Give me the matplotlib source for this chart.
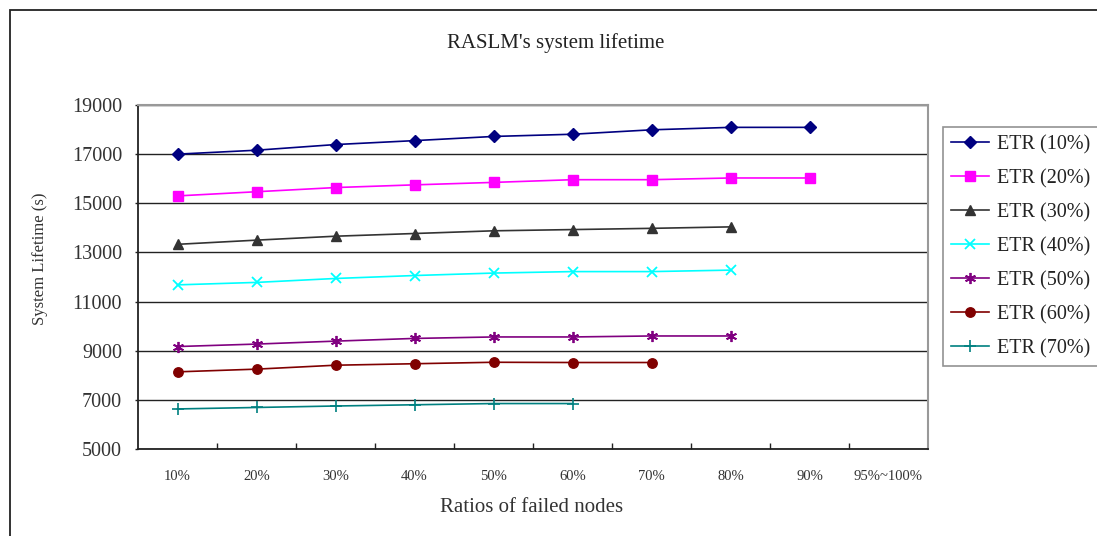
import matplotlib
matplotlib.use("Agg")
import matplotlib.pyplot as plt
from matplotlib.patches import Rectangle
import numpy as np

plt.rcParams['font.family'] = ['Liberation Serif', 'DejaVu Serif']

categories = ["10%", "20%", "30%", "40%", "50%", "60%", "70%", "80%", "90%", "95%~100%"]

etr10 = [17000, 17160, 17390, 17550, 17720, 17810, 17990, 18090, 18090]
etr20 = [15300, 15470, 15640, 15750, 15850, 15960, 15960, 16030, 16030]
etr30 = [13330, 13500, 13660, 13770, 13880, 13930, 13980, 14040]
etr40 = [11680, 11780, 11940, 12060, 12160, 12220, 12220, 12280]
etr50 = [9170, 9270, 9390, 9500, 9560, 9560, 9600, 9600]
etr60 = [8140, 8250, 8410, 8470, 8530, 8520, 8520]
etr70 = [6630, 6690, 6750, 6800, 6850, 6850]

series_labels = ["ETR (10%)", "ETR (20%)", "ETR (30%)", "ETR (40%)",
                 "ETR (50%)", "ETR (60%)", "ETR (70%)"]

W, H = 1097, 536
fig = plt.figure(figsize=(W / 100, H / 100), dpi=100)
fig.patch.set_facecolor("white")

# outer chart frame
fig.patches.append(Rectangle((9.5 / W, -0.1), 1.2, 1 - 9.5 / H + 0.1,
                             transform=fig.transFigure, fill=False,
                             edgecolor="#222222", linewidth=1.3, zorder=0))

left, right, bottom, top = 138 / W, 928 / W, 1 - 449 / H, 1 - 105 / H
ax = fig.add_axes([left, bottom, right - left, top - bottom])

x = np.arange(len(categories))
styles = [
    dict(color="#000080", marker="D", ms=6.5),
    dict(color="#FF00FF", marker="s", ms=6.5),
    dict(color="#333333", marker="^", ms=7.5),
    dict(color="#00FFFF", marker="x", ms=7, mew=1.3),
    dict(color="#800080", marker=(6, 2, 0), ms=8, mew=1.3),
    dict(color="#800000", marker="o", ms=6.8),
    dict(color="#008080", marker="+", ms=8, mew=1.2),
]
data = [etr10, etr20, etr30, etr40, etr50, etr60, etr70]
handles = []
for vals, st, lab in zip(data, styles, series_labels):
    h, = ax.plot(x[:len(vals)], vals, lw=1.2, label=lab, zorder=3, **st)
    handles.append(h)

ax.set_xlim(-0.5, len(categories) - 0.5)
ax.set_ylim(5000, 19000)
ax.set_yticks(np.arange(5000, 19001, 2000))
ax.set_xticks(x)
ax.set_xticklabels(categories, fontsize=10.5, color="#333333")
ax.set_xticks(np.arange(0.5, len(categories) - 0.5, 1), minor=True)
ax.tick_params(axis="x", which="major", length=0, pad=15)
ax.tick_params(axis="x", which="minor", direction="in", length=4.5, width=1, color="#222222")
ax.tick_params(axis="y", direction="out", length=2.5, width=1, labelsize=14.5, pad=9,
               labelcolor="#333333", color="#222222")

ax.grid(axis="y", color="#222222", linewidth=1.0, zorder=1)
ax.set_axisbelow(True)
for side in ("top", "right"):
    ax.spines[side].set_color("#999999")
    ax.spines[side].set_linewidth(1.5)
for side in ("left", "bottom"):
    ax.spines[side].set_color("#222222")
    ax.spines[side].set_linewidth(1.3)

fig.text(556 / W, 1 - 43 / H, "RASLM's system lifetime", ha="center", va="center",
         fontsize=15, color="#222222")
fig.text(532 / W, 1 - 508 / H, "Ratios of failed nodes", ha="center", va="center",
         fontsize=15, color="#333333")
fig.text(40 / W, 1 - 259 / H, "System Lifetime (s)", ha="center", va="center",
         rotation=90, fontsize=12, color="#333333")

leg = fig.legend(handles=handles, loc="upper left",
                 bbox_to_anchor=(943 / W, 1 - 127 / H), bbox_transform=fig.transFigure,
                 borderaxespad=0, fancybox=False, frameon=True, fontsize=14.5,
                 handlelength=1.9, handletextpad=0.4, labelspacing=0.73,
                 borderpad=0.4)
leg.get_frame().set_edgecolor("#777777")
leg.get_frame().set_linewidth(1.2)
for t in leg.get_texts():
    t.set_color("#222222")

fig.savefig("out.png", dpi=100, facecolor="white")
